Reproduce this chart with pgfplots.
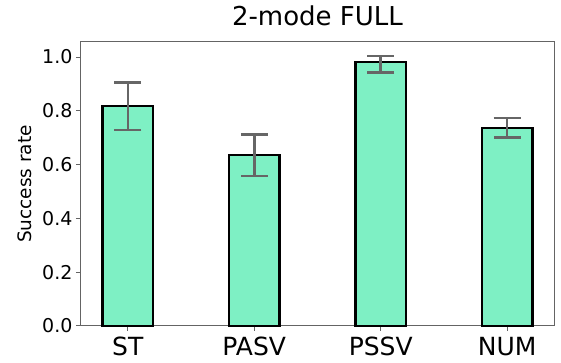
\documentclass[border=0pt]{standalone}
\usepackage{fontspec}
\setmainfont{DejaVu Sans}
\usepackage{pgfplots}
\pgfplotsset{compat=1.18}
\definecolor{barfill}{RGB}{126,240,196}
\definecolor{errc}{RGB}{102,102,102}
\definecolor{spine}{RGB}{100,100,100}
\begin{document}
\begin{tikzpicture}
\begin{axis}[
  name=ax,
  scale only axis,
  width=473pt, height=284pt,
  xmin=-0.37, xmax=3.37,
  ymin=0, ymax=1.056,
  xtick={0,1,2,3},
  xticklabels={ST,PASV,PSSV,NUM},
  ytick={0,0.2,0.4,0.6,0.8,1.0},
  yticklabels={0.0,0.2,0.4,0.6,0.8,1.0},
  /pgf/number format/assume math mode=true,
  axis line style={spine, line width=1pt},
  tick style={spine, line width=1pt},
  tick align=outside,
  major tick length=5pt,
  xtick pos=bottom, ytick pos=left,
  yticklabel style={font=\fontsize{19}{22}\selectfont, text=black},
  xticklabel style={font=\fontsize{25}{28}\selectfont, text=black, anchor=base, yshift=-25pt},
  title={2-mode FULL},
  title style={font=\fontsize{26}{30}\selectfont, at={(axis description cs:0.5,1)}, anchor=base, yshift=10pt},
  ylabel={Success rate},
  ylabel style={font=\fontsize{18.5}{22}\selectfont, at={(axis description cs:-0.118,0.5)}, anchor=center},
  clip=false,
]
\addplot[ybar, bar width=0.4, fill=barfill, draw=black, line width=2.2pt,
  error bars/.cd, y dir=both, y explicit,
  error bar style={line width=2.5pt, errc},
  error mark options={rotate=90, mark size=13.5pt, line width=2.5pt, errc}]
coordinates {
  (0,0.817) +- (0,0.088)
  (1,0.635) +- (0,0.077)
  (2,0.983) += (0,0.021) -= (0,0.040)
  (3,0.737) +- (0,0.036)
};
\end{axis}
\pgfresetboundingbox
\path[use as bounding box] ([shift={(-81pt,-37pt)}]ax.south west) rectangle ([shift={(7pt,42pt)}]ax.north east);
\end{tikzpicture}
\end{document}
